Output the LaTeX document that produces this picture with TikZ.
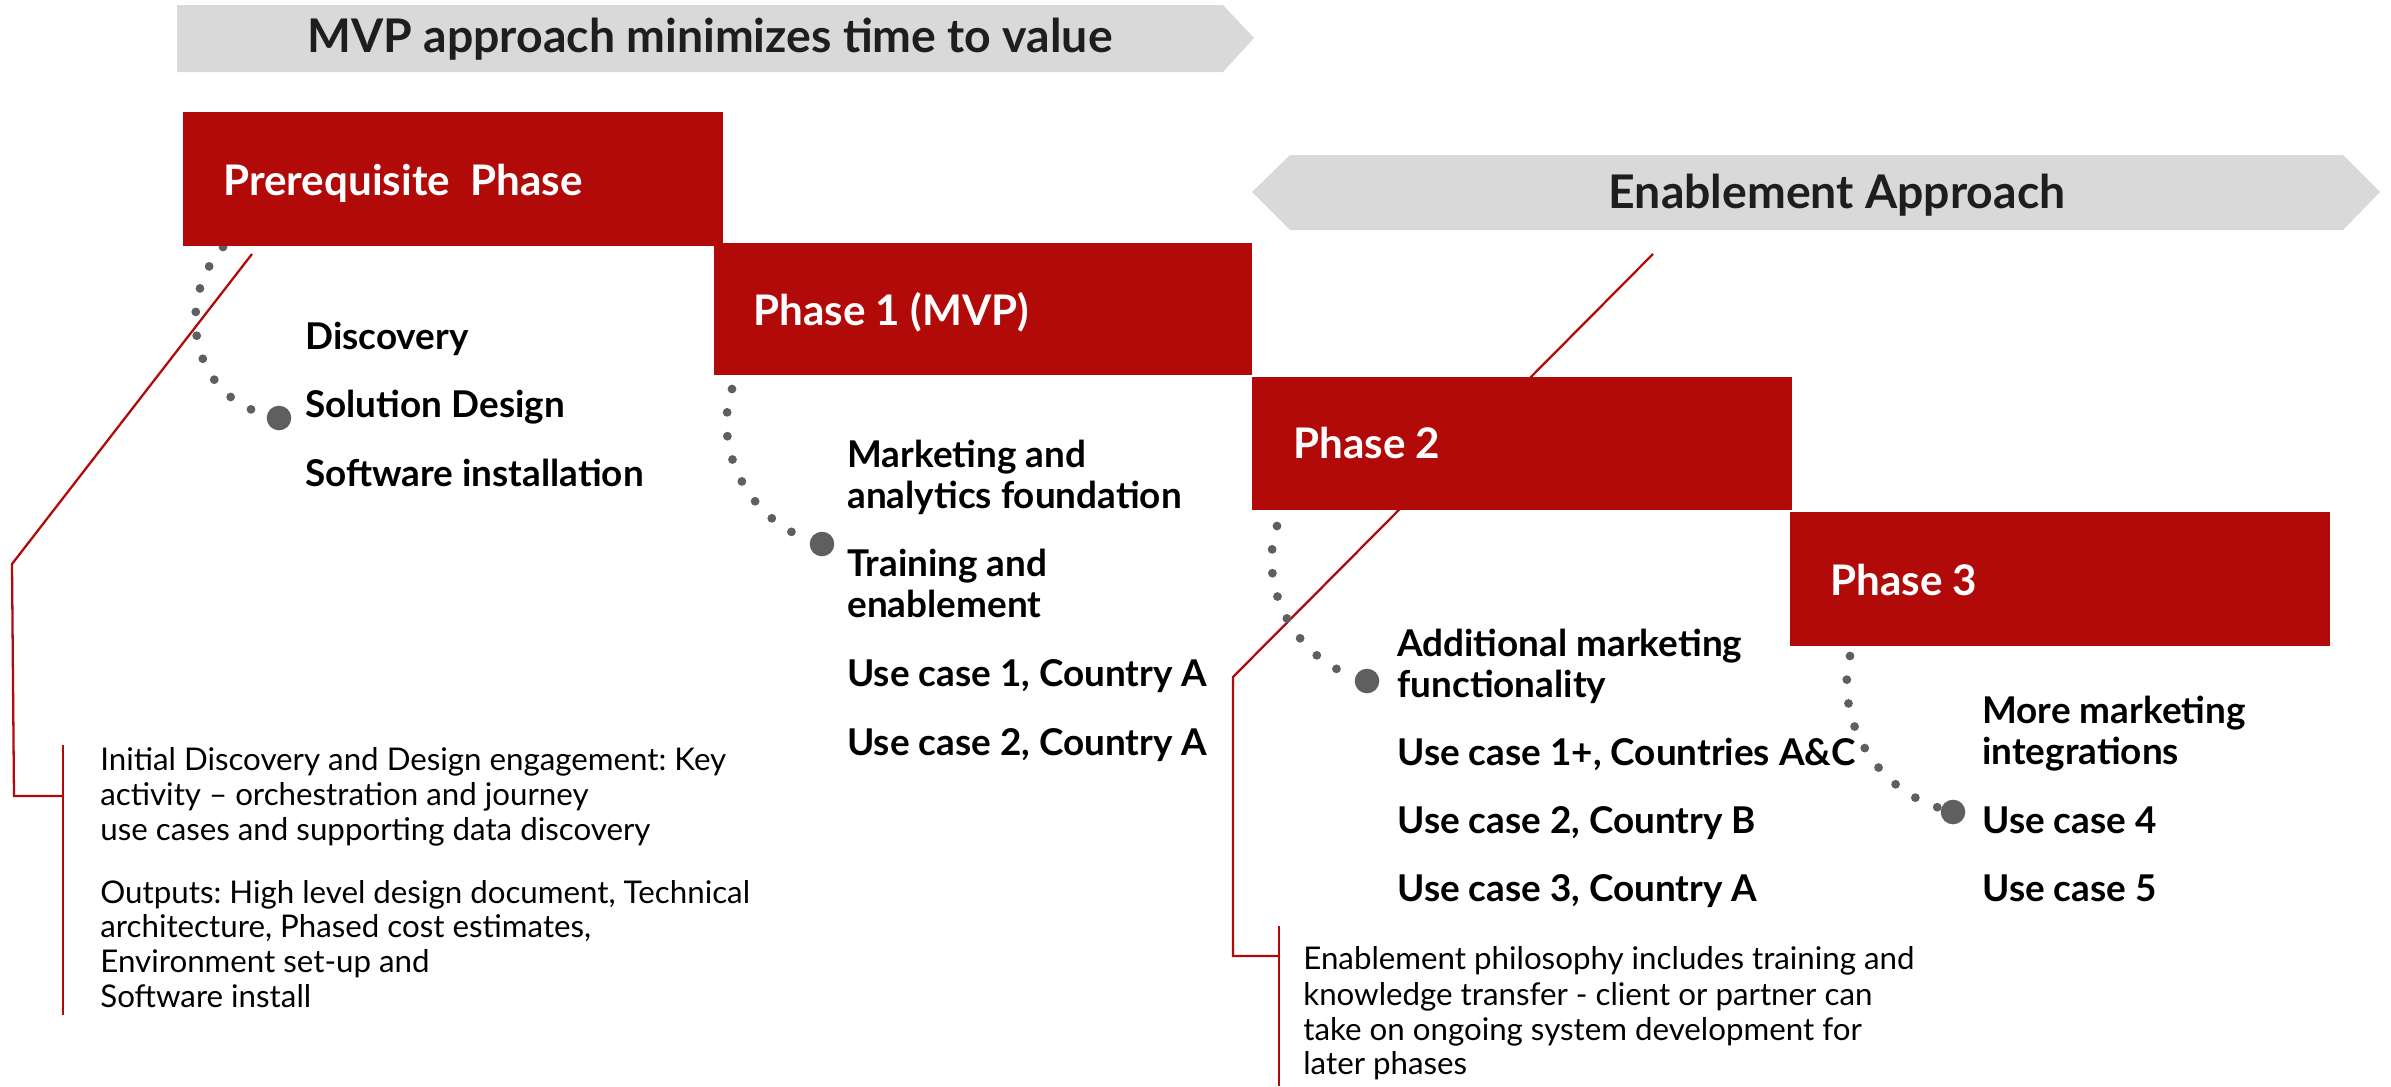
\documentclass[tikz,border=0pt]{standalone}
\usepackage{fontspec}
\setmainfont{Lato}
\frenchspacing
\definecolor{brand}{HTML}{B20909}
\definecolor{bannergray}{HTML}{D9D9D9}
\definecolor{dotgray}{HTML}{5F5F5F}
\definecolor{darktext}{HTML}{1E1E1E}
\tikzset{
  bannerfill/.style={fill=bannergray},
  phasebox/.style={fill=brand},
  bannertext/.style={font=\fontsize{26.4}{30}\selectfont\bfseries, text=darktext, inner sep=0pt, anchor=base},
  phasetext/.style={font=\fontsize{24}{28}\selectfont\bfseries, text=white, inner sep=0pt, anchor=base west},
  itemtext/.style={font=\fontsize{21}{25}\selectfont\bfseries, text=black, inner sep=0pt, anchor=base west},
  desctext/.style={font=\fontsize{17.8}{20}\selectfont, text=black, inner sep=0pt, anchor=base west},
  dotarc/.style={draw=dotgray, line width=5pt, line cap=round, dash pattern=on 0pt off 13.6pt},
  bigdot/.style={circle, fill=dotgray, inner sep=0pt, minimum size=14pt},
  callout/.style={draw=brand, line width=1.3pt},
}
\begin{document}
\begin{tikzpicture}[x=0.02cm,y=-0.02cm]
\useasboundingbox (0,0) rectangle (2391,1086);

% callout lines (behind boxes)
\coordinate (c0a) at (252,254);
\coordinate (c0b) at (12,564);
\coordinate (c0c) at (14,796);
\coordinate (c0d) at (63,796);
\coordinate (b0t) at (63,745);
\coordinate (b0b) at (63,1015);
\draw[callout] (c0a) -- (c0b) -- (c0c) -- (c0d);
\draw[callout] (b0t) -- (b0b);

\coordinate (c2a) at (1653,254);
\coordinate (c2b) at (1233,677);
\coordinate (c2c) at (1233,956);
\coordinate (c2d) at (1279,956);
\coordinate (b2t) at (1279,926);
\coordinate (b2b) at (1279,1086);
\draw[callout] (c2a) -- (c2b) -- (c2c) -- (c2d);
\draw[callout] (b2t) -- (b2b);

% dotted arcs
\node[bigdot] (d0) at (279,418) {};
\node[bigdot] (d1) at (822,544) {};
\node[bigdot] (d2) at (1367,681) {};
\node[bigdot] (d3) at (1953,812) {};
\coordinate (s0) at (223,247);
\coordinate (s1) at (732,389);
\coordinate (s2) at (1277,526);
\coordinate (s3) at (1850,656);
\draw[dotarc] (s0) .. controls (175,300) and (190,395) .. (d0);
\draw[dotarc] (s1) .. controls (712,450) and (750,520) .. (d1);
\draw[dotarc] (s2) .. controls (1257,587) and (1295,657) .. (d2);
\draw[dotarc] (s3) .. controls (1835,717) and (1873,788) .. (d3);

% phase boxes
\fill[phasebox] (183,112) rectangle (723,246);
\fill[phasebox] (714,243) rectangle (1252,375);
\fill[phasebox] (1252,377) rectangle (1792,510);
\fill[phasebox] (1790,512) rectangle (2330,646);

% banners
\fill[bannerfill] (177,5) -- (1223,5) -- (1254,38) -- (1223,72) -- (177,72) -- cycle;
\fill[bannerfill] (1252,192) -- (1290,155) -- (2343,155) -- (2380,192) -- (2343,230) -- (1290,230) -- cycle;
\node[bannertext] (mvp) at (710,52) {MVP approach minimizes time to value};
\node[bannertext] (enab) at (1837,208) {Enablement Approach};

% phase titles
\node[phasetext] (t0) at (223,195) {Prerequisite\ \ Phase};
\node[phasetext] (t1) at (753,325) {Phase 1 (MVP)};
\node[phasetext] (t2) at (1293,458) {Phase 2};
\node[phasetext] (t3) at (1830,595) {Phase 3};

% items
\node[itemtext] (i01) at (305,349) {Discovery};
\node[itemtext] (i02) at (305,417) {Solution Design};
\node[itemtext] (i03) at (305,486) {Software installation};

\node[itemtext] (i11) at (847,467) {Marketing and};
\node[itemtext] (i12) at (847,508) {analytics foundation};
\node[itemtext] (i13) at (847,576) {Training and};
\node[itemtext] (i14) at (847,617) {enablement};
\node[itemtext] (i15) at (847,686) {Use case 1, Country A};
\node[itemtext] (i16) at (847,755) {Use case 2, Country A};

\node[itemtext] (i21) at (1397,656) {Additional marketing};
\node[itemtext] (i22) at (1397,697) {functionality};
\node[itemtext] (i23) at (1397,765) {Use case 1+, Countries A\&C};
\node[itemtext] (i24) at (1397,833) {Use case 2, Country B};
\node[itemtext] (i25) at (1397,901) {Use case 3, Country A};

\node[itemtext] (i31) at (1982,723) {More marketing};
\node[itemtext] (i32) at (1982,764) {integrations};
\node[itemtext] (i33) at (1982,833) {Use case 4};
\node[itemtext] (i34) at (1982,901) {Use case 5};

% descriptions
\node[desctext] (p1) at (100,770) {Initial Discovery and Design engagement: Key};
\node[desctext] (p2) at (100,805) {activity – orchestration and journey};
\node[desctext] (p3) at (100,840) {use cases and supporting data discovery};
\node[desctext] (p4) at (100,903) {Outputs: High level design document, Technical};
\node[desctext] (p5) at (100,937) {architecture, Phased cost estimates,};
\node[desctext] (p6) at (100,972) {Environment set-up and};
\node[desctext] (p7) at (100,1007) {Software install};

\node[desctext] (e1) at (1303,969) {Enablement philosophy includes training and};
\node[desctext] (e2) at (1303,1005) {knowledge transfer - client or partner can};
\node[desctext] (e3) at (1303,1040) {take on ongoing system development for};
\node[desctext] (e4) at (1303,1074) {later phases};
\end{tikzpicture}
\end{document}
